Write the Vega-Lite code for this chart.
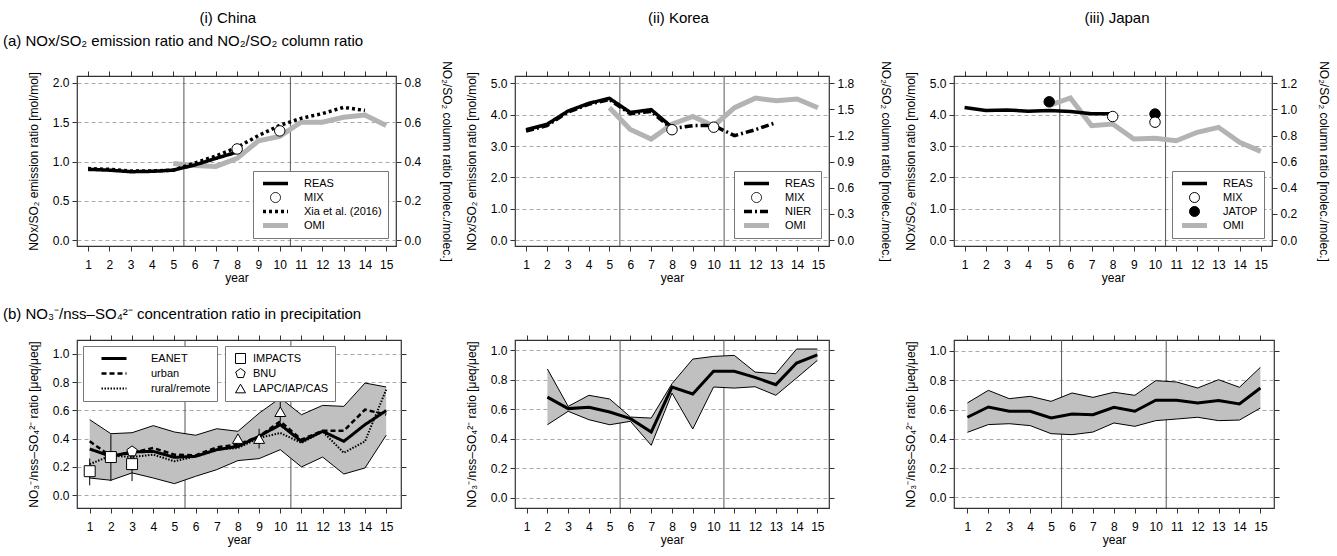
{
"$schema": "https://vega.github.io/schema/vega-lite/v6.json",
"padding": {"left": 2, "top": 11, "right": 2, "bottom": 4},
"spacing": 10,
"resolve": {"scale": {"color": "independent", "shape": "independent", "strokeDash": "independent", "strokeWidth": "independent"}, "legend": {"color": "independent", "shape": "independent", "strokeDash": "independent", "strokeWidth": "independent"}},
"config": {
  "font": "Liberation Sans",
  "title": {"fontSize": 15, "fontWeight": "normal", "color": "#000"},
  "view": {"stroke": "#333", "strokeWidth": 1.2},
  "axis": {"labelFontSize": 12, "titleFontSize": 12, "titleFontWeight": "normal", "labelColor": "#000", "titleColor": "#000", "tickColor": "#333", "tickSize": 5, "domain": false, "grid": false, "gridColor": "#aaa", "gridDash": [4, 3], "labelPadding": 3, "titlePadding": 6, "labelFlush": false},
  "axisX": {"labelPadding": 8},
  "axisLeft": {"titlePadding": 12},
  "legend": {"labelFontSize": 11, "labelColor": "#000", "strokeColor": "#777", "fillColor": "#fff", "padding": 6, "rowPadding": 1, "clipHeight": 13, "labelOffset": 23, "symbolOffset": 11, "symbolStrokeWidth": 1}
},
"hconcat": [
 {
  "title": {"text": "(i) China", "anchor": "middle", "offset": 7},
  "spacing": 21,
  "resolve": {"scale": {"color": "independent", "shape": "independent", "strokeDash": "independent", "strokeWidth": "independent"}, "legend": {"color": "independent", "shape": "independent", "strokeDash": "independent", "strokeWidth": "independent"}},
  "vconcat": [
   {
    "width": 319, "height": 170,
    "title": {"text": "(a) NOx/SO₂ emission ratio and NO₂/SO₂ column ratio", "anchor": "start", "frame": "group", "dx": -74, "offset": 12},
    "layer": [
     {"data": {"values": [{"x": 5.5}, {"x": 10.5}]}, "mark": {"type": "rule", "color": "#555", "strokeWidth": 1},
      "encoding": {"x": {"field": "x", "type": "quantitative", "scale": {"domain": [0.48, 15.46], "nice": false, "zero": false}, "axis": {"orient": "bottom", "values": [1,2,3,4,5,6,7,8,9,10,11,12,13,14,15], "title": "year", "titlePadding": 2}}}},
     {"data": {"name": "chinaTop"}, "transform": [{"filter": "datum.series === 'OMI'"}],
      "mark": {"type": "line", "color": "#b3b3b3", "strokeWidth": 5},
      "encoding": {
       "x": {"field": "year", "type": "quantitative", "scale": {"domain": [0.48, 15.46], "nice": false, "zero": false}, "axis": {"orient": "top", "values": [1,2,3,4,5,6,7,8,9,10,11,12,13,14,15], "labels": false, "title": null}},
       "y": {"field": "value", "type": "quantitative", "scale": {"domain": [-0.0304, 0.8356], "nice": false, "zero": false}, "axis": {"orient": "right", "values": [0, 0.2, 0.4, 0.6, 0.8], "format": ".1f", "title": "NO₂/SO₂ column ratio [molec./molec.]", "titleAngle": 90, "titlePadding": 19}}
      }},
     {"data": {"name": "chinaTop"}, "transform": [{"filter": "datum.series === 'REAS' || datum.series === 'Xia et al. (2016)'"}],
      "mark": {"type": "line", "strokeWidth": 3.5},
      "encoding": {
       "x": {"field": "year", "type": "quantitative", "scale": {"domain": [0.48, 15.46], "nice": false, "zero": false}, "axis": null},
       "y": {"field": "value", "type": "quantitative", "scale": {"domain": [-0.076, 2.089], "nice": false, "zero": false}, "axis": {"orient": "left", "values": [0, 0.5, 1, 1.5, 2], "format": ".1f", "title": "NOx/SO₂ emission ratio [mol/mol]", "grid": true}},
       "color": {"field": "series", "type": "nominal", "scale": {"domain": ["REAS", "MIX", "Xia et al. (2016)", "OMI"], "range": ["#000", "#000", "#000", "#b3b3b3"]},
        "legend": {"title": null, "orient": "bottom-right", "offset": 8, "symbolSize": 100, "symbolType": "stroke", "labelExpr": "datum.label + '\u00a0\u00a0\u00a0\u00a0'",
         "encode": {"symbols": {"update": {
          "shape": {"signal": "datum.value === 'MIX' ? 'circle' : 'stroke'"},
          "size": {"signal": "datum.value === 'MIX' ? 100 : 625"},
          "strokeWidth": {"signal": "datum.value === 'MIX' ? 1 : (datum.value === 'OMI' ? 5 : 3.5)"},
          "strokeDash": {"signal": "datum.value === 'Xia et al. (2016)' ? [3,3] : [1,0]"},
          "stroke": {"signal": "datum.value === 'OMI' ? '#b3b3b3' : '#000'"},
          "fill": {"signal": "datum.value === 'MIX' ? '#fff' : 'transparent'"},
          "opacity": {"value": 1}}}}}},
       "strokeDash": {"field": "series", "type": "nominal", "scale": {"domain": ["REAS", "Xia et al. (2016)"], "range": [[1, 0], [3, 3]]}, "legend": null}
      }},
     {"data": {"name": "chinaTop"}, "transform": [{"filter": "datum.series === 'MIX'"}],
      "mark": {"type": "point", "shape": "circle", "filled": true, "fill": "#fff", "stroke": "#000", "strokeWidth": 1, "size": 110, "opacity": 1},
      "encoding": {
       "x": {"field": "year", "type": "quantitative", "scale": {"domain": [0.48, 15.46], "nice": false, "zero": false}, "axis": null},
       "y": {"field": "value", "type": "quantitative", "scale": {"domain": [-0.076, 2.089], "nice": false, "zero": false}, "axis": null}
      }}
    ],
    "resolve": {"scale": {"y": "independent"}, "axis": {"x": "independent"}}
   },
   {
    "width": 324, "height": 168,
    "title": {"text": "(b) NO₃⁻/nss–SO₄²⁻ concentration ratio in precipitation", "anchor": "start", "frame": "group", "dx": -74, "offset": 13},
    "layer": [
     {"data": {"values": [{"x": 5.5}, {"x": 10.5}]}, "mark": {"type": "rule", "color": "#555", "strokeWidth": 1},
      "encoding": {"x": {"field": "x", "type": "quantitative", "scale": {"domain": [0.4, 15.7], "nice": false, "zero": false}, "axis": {"orient": "bottom", "values": [1,2,3,4,5,6,7,8,9,10,11,12,13,14,15], "title": "year", "titlePadding": 2}}}},
     {"data": {"name": "chinaBand"}, "mark": {"type": "area", "color": "#c0c0c0", "opacity": 1},
      "encoding": {
       "x": {"field": "year", "type": "quantitative", "scale": {"domain": [0.4, 15.7], "nice": false, "zero": false}, "axis": {"orient": "top", "values": [1,2,3,4,5,6,7,8,9,10,11,12,13,14,15], "labels": false, "title": null}},
       "y": {"field": "lo", "type": "quantitative", "scale": {"domain": [-0.09, 1.097], "nice": false, "zero": false}, "axis": {"orient": "left", "values": [0, 0.2, 0.4, 0.6, 0.8, 1], "format": ".1f", "title": "NO₃⁻/nss–SO₄²⁻ ratio [μeq/μeq]", "grid": true}},
       "y2": {"field": "hi"}
      }},
     {"data": {"name": "chinaBand"}, "mark": {"type": "line", "color": "#000", "strokeWidth": 1},
      "encoding": {
       "x": {"field": "year", "type": "quantitative", "axis": null},
       "y": {"field": "hi", "type": "quantitative", "axis": {"orient": "right", "values": [0, 0.2, 0.4, 0.6, 0.8, 1], "labels": false, "title": null}}
      }},
     {"data": {"name": "chinaBand"}, "mark": {"type": "line", "color": "#000", "strokeWidth": 1},
      "encoding": {
       "x": {"field": "year", "type": "quantitative", "axis": null},
       "y": {"field": "lo", "type": "quantitative", "axis": null}
      }},
     {"data": {"name": "chinaLines"}, "mark": {"type": "line"},
      "encoding": {
       "x": {"field": "year", "type": "quantitative", "axis": null},
       "y": {"field": "value", "type": "quantitative", "axis": null},
       "color": {"field": "series", "type": "nominal", "scale": {"domain": ["EANET", "urban", "rural/remote"], "range": ["#000", "#000", "#000"]},
        "legend": {"title": null, "orient": "top-left", "offset": 6, "symbolSize": 100, "symbolType": "stroke", "rowPadding": 2, "labelExpr": "datum.label + '\u00a0\u00a0\u00a0\u00a0\u00a0\u00a0\u00a0'",
         "encode": {"symbols": {"update": {
          "size": {"value": 625},
          "strokeWidth": {"signal": "datum.value === 'EANET' ? 3.5 : 2"},
          "strokeDash": {"signal": "datum.value === 'urban' ? [5,3] : (datum.value === 'rural/remote' ? [1.5,1.5] : [1,0])"},
          "stroke": {"value": "#000"},
          "fill": {"value": "transparent"},
          "opacity": {"value": 1}}}}}},
       "strokeDash": {"field": "series", "type": "nominal", "scale": {"domain": ["EANET", "urban", "rural/remote"], "range": [[1, 0], [5, 3], [1.5, 1.5]]}, "legend": null},
       "strokeWidth": {"field": "series", "type": "nominal", "scale": {"domain": ["EANET", "urban", "rural/remote"], "range": [3, 2, 2]}, "legend": null}
      }},
     {"data": {"name": "chinaObs"}, "transform": [{"filter": "isValid(datum.lo)"}], "mark": {"type": "rule", "color": "#000", "strokeWidth": 1},
      "encoding": {
       "x": {"field": "year", "type": "quantitative", "axis": null},
       "y": {"field": "lo", "type": "quantitative", "axis": null},
       "y2": {"field": "hi"}
      }},
     {"data": {"name": "chinaObs"}, "mark": {"type": "point", "filled": true, "fill": "#fff", "stroke": "#000", "strokeWidth": 1, "size": 120, "opacity": 1},
      "encoding": {
       "x": {"field": "year", "type": "quantitative", "axis": null},
       "y": {"field": "value", "type": "quantitative", "axis": null},
       "shape": {"field": "source", "type": "nominal", "scale": {"domain": ["IMPACTS", "BNU", "LAPC/IAP/CAS"], "range": ["square", "M0,-1L0.951,-0.309L0.588,0.809L-0.588,0.809L-0.951,-0.309Z", "triangle-up"]},
        "legend": {"title": null, "orient": "none", "legendX": 148, "legendY": 6, "symbolSize": 100, "symbolOffset": 4, "labelOffset": 7, "rowPadding": 2,
         "encode": {"symbols": {"update": {"fill": {"value": "#fff"}, "stroke": {"value": "#000"}, "strokeWidth": {"value": 1}, "opacity": {"value": 1}}}}}}
      }}
    ],
    "resolve": {"axis": {"x": "independent", "y": "independent"}}
   }
  ]
 },
 {
  "title": {"text": "(ii) Korea", "anchor": "middle", "offset": 7},
  "spacing": 21,
  "resolve": {"scale": {"color": "independent", "shape": "independent", "strokeDash": "independent", "strokeWidth": "independent"}, "legend": {"color": "independent", "shape": "independent", "strokeDash": "independent", "strokeWidth": "independent"}},
  "vconcat": [
   {
    "width": 314, "height": 170,
    "title": {"text": " ", "anchor": "start", "offset": 12},
    "layer": [
     {"data": {"values": [{"x": 5.5}, {"x": 10.5}]}, "mark": {"type": "rule", "color": "#555", "strokeWidth": 1},
      "encoding": {"x": {"field": "x", "type": "quantitative", "scale": {"domain": [0.47, 15.53], "nice": false, "zero": false}, "axis": {"orient": "bottom", "values": [1,2,3,4,5,6,7,8,9,10,11,12,13,14,15], "title": "year", "titlePadding": 2}}}},
     {"data": {"name": "koreaTop"}, "transform": [{"filter": "datum.series === 'OMI'"}],
      "mark": {"type": "line", "color": "#b3b3b3", "strokeWidth": 5},
      "encoding": {
       "x": {"field": "year", "type": "quantitative", "scale": {"domain": [0.47, 15.53], "nice": false, "zero": false}, "axis": {"orient": "top", "values": [1,2,3,4,5,6,7,8,9,10,11,12,13,14,15], "labels": false, "title": null}},
       "y": {"field": "value", "type": "quantitative", "scale": {"domain": [-0.0684, 1.884], "nice": false, "zero": false}, "axis": {"orient": "right", "values": [0, 0.3, 0.6, 0.9, 1.2, 1.5, 1.8], "format": ".1f", "title": "NO₂/SO₂ column ratio [molec./molec.]", "titleAngle": 90, "titlePadding": 25}}
      }},
     {"data": {"name": "koreaTop"}, "transform": [{"filter": "datum.series === 'REAS' || datum.series === 'NIER'"}],
      "mark": {"type": "line", "strokeWidth": 3.5},
      "encoding": {
       "x": {"field": "year", "type": "quantitative", "scale": {"domain": [0.47, 15.53], "nice": false, "zero": false}, "axis": null},
       "y": {"field": "value", "type": "quantitative", "scale": {"domain": [-0.19, 5.233], "nice": false, "zero": false}, "axis": {"orient": "left", "values": [0, 1, 2, 3, 4, 5], "format": ".1f", "title": "NOx/SO₂ emission ratio [mol/mol]", "grid": true}},
       "color": {"field": "series", "type": "nominal", "scale": {"domain": ["REAS", "MIX", "NIER", "OMI"], "range": ["#000", "#000", "#000", "#b3b3b3"]},
        "legend": {"title": null, "orient": "bottom-right", "offset": 8, "symbolSize": 100, "symbolType": "stroke", "labelExpr": "datum.label + '\u00a0\u00a0\u00a0\u00a0\u00a0\u00a0\u00a0\u00a0\u00a0'",
         "encode": {"symbols": {"update": {
          "shape": {"signal": "datum.value === 'MIX' ? 'circle' : 'stroke'"},
          "size": {"signal": "datum.value === 'MIX' ? 100 : 625"},
          "strokeWidth": {"signal": "datum.value === 'MIX' ? 1 : (datum.value === 'OMI' ? 5 : 3.5)"},
          "strokeDash": {"signal": "datum.value === 'NIER' ? [8,3,2,3] : [1,0]"},
          "stroke": {"signal": "datum.value === 'OMI' ? '#b3b3b3' : '#000'"},
          "fill": {"signal": "datum.value === 'MIX' ? '#fff' : 'transparent'"},
          "opacity": {"value": 1}}}}}},
       "strokeDash": {"field": "series", "type": "nominal", "scale": {"domain": ["REAS", "NIER"], "range": [[1, 0], [8, 3, 2, 3]]}, "legend": null}
      }},
     {"data": {"name": "koreaTop"}, "transform": [{"filter": "datum.series === 'MIX'"}],
      "mark": {"type": "point", "shape": "circle", "filled": true, "fill": "#fff", "stroke": "#000", "strokeWidth": 1, "size": 110, "opacity": 1},
      "encoding": {
       "x": {"field": "year", "type": "quantitative", "scale": {"domain": [0.47, 15.53], "nice": false, "zero": false}, "axis": null},
       "y": {"field": "value", "type": "quantitative", "scale": {"domain": [-0.19, 5.233], "nice": false, "zero": false}, "axis": null}
      }}
    ],
    "resolve": {"scale": {"y": "independent"}, "axis": {"x": "independent"}}
   },
   {
    "width": 314, "height": 168,
    "title": {"text": " ", "anchor": "start", "offset": 13},
    "layer": [
     {"data": {"values": [{"x": 5.5}, {"x": 10.5}]}, "mark": {"type": "rule", "color": "#555", "strokeWidth": 1},
      "encoding": {"x": {"field": "x", "type": "quantitative", "scale": {"domain": [0.44, 15.56], "nice": false, "zero": false}, "axis": {"orient": "bottom", "values": [1,2,3,4,5,6,7,8,9,10,11,12,13,14,15], "title": "year", "titlePadding": 2}}}},
     {"data": {"name": "koreaBand"}, "mark": {"type": "area", "color": "#c0c0c0", "opacity": 1},
      "encoding": {
       "x": {"field": "year", "type": "quantitative", "scale": {"domain": [0.44, 15.56], "nice": false, "zero": false}, "axis": {"orient": "top", "values": [1,2,3,4,5,6,7,8,9,10,11,12,13,14,15], "labels": false, "title": null}},
       "y": {"field": "lo", "type": "quantitative", "scale": {"domain": [-0.068, 1.068], "nice": false, "zero": false}, "axis": {"orient": "left", "values": [0, 0.2, 0.4, 0.6, 0.8, 1], "format": ".1f", "title": "NO₃⁻/nss–SO₄²⁻ ratio [μeq/μeq]", "grid": true}},
       "y2": {"field": "hi"}
      }},
     {"data": {"name": "koreaBand"}, "mark": {"type": "line", "color": "#000", "strokeWidth": 1},
      "encoding": {
       "x": {"field": "year", "type": "quantitative", "axis": null},
       "y": {"field": "hi", "type": "quantitative", "axis": {"orient": "right", "values": [0, 0.2, 0.4, 0.6, 0.8, 1], "labels": false, "title": null}}
      }},
     {"data": {"name": "koreaBand"}, "mark": {"type": "line", "color": "#000", "strokeWidth": 1},
      "encoding": {"x": {"field": "year", "type": "quantitative", "axis": null}, "y": {"field": "lo", "type": "quantitative", "axis": null}}},
     {"data": {"name": "koreaBand"}, "mark": {"type": "line", "color": "#000", "strokeWidth": 3},
      "encoding": {"x": {"field": "year", "type": "quantitative", "axis": null}, "y": {"field": "mean", "type": "quantitative", "axis": null}}}
    ],
    "resolve": {"axis": {"x": "independent", "y": "independent"}}
   }
  ]
 },
 {
  "title": {"text": "(iii) Japan", "anchor": "middle", "offset": 7},
  "spacing": 21,
  "resolve": {"scale": {"color": "independent", "shape": "independent", "strokeDash": "independent", "strokeWidth": "independent"}, "legend": {"color": "independent", "shape": "independent", "strokeDash": "independent", "strokeWidth": "independent"}},
  "vconcat": [
   {
    "width": 318, "height": 170,
    "title": {"text": " ", "anchor": "start", "offset": 12},
    "layer": [
     {"data": {"values": [{"x": 5.5}, {"x": 10.5}]}, "mark": {"type": "rule", "color": "#555", "strokeWidth": 1},
      "encoding": {"x": {"field": "x", "type": "quantitative", "scale": {"domain": [0.5, 15.53], "nice": false, "zero": false}, "axis": {"orient": "bottom", "values": [1,2,3,4,5,6,7,8,9,10,11,12,13,14,15], "title": "year", "titlePadding": 2}}}},
     {"data": {"name": "japanTop"}, "transform": [{"filter": "datum.series === 'OMI'"}],
      "mark": {"type": "line", "color": "#b3b3b3", "strokeWidth": 5},
      "encoding": {
       "x": {"field": "year", "type": "quantitative", "scale": {"domain": [0.5, 15.53], "nice": false, "zero": false}, "axis": {"orient": "top", "values": [1,2,3,4,5,6,7,8,9,10,11,12,13,14,15], "labels": false, "title": null}},
       "y": {"field": "value", "type": "quantitative", "scale": {"domain": [-0.0456, 1.256], "nice": false, "zero": false}, "axis": {"orient": "right", "values": [0, 0.2, 0.4, 0.6, 0.8, 1, 1.2], "format": ".1f", "title": "NO₂/SO₂ column ratio [molec./molec.]", "titleAngle": 90, "titlePadding": 20}}
      }},
     {"data": {"name": "japanTop"}, "transform": [{"filter": "datum.series === 'REAS'"}],
      "mark": {"type": "line", "strokeWidth": 3.5},
      "encoding": {
       "x": {"field": "year", "type": "quantitative", "scale": {"domain": [0.5, 15.53], "nice": false, "zero": false}, "axis": null},
       "y": {"field": "value", "type": "quantitative", "scale": {"domain": [-0.19, 5.233], "nice": false, "zero": false}, "axis": {"orient": "left", "values": [0, 1, 2, 3, 4, 5], "format": ".1f", "title": "NOx/SO₂ emission ratio [mol/mol]", "grid": true}},
       "color": {"field": "series", "type": "nominal", "scale": {"domain": ["REAS", "MIX", "JATOP", "OMI"], "range": ["#000", "#000", "#000", "#b3b3b3"]},
        "legend": {"title": null, "orient": "bottom-right", "offset": 8, "symbolSize": 100, "symbolType": "stroke", "labelExpr": "datum.label + '\u00a0\u00a0\u00a0\u00a0'",
         "encode": {"symbols": {"update": {
          "shape": {"signal": "(datum.value === 'MIX' || datum.value === 'JATOP') ? 'circle' : 'stroke'"},
          "size": {"signal": "(datum.value === 'MIX' || datum.value === 'JATOP') ? 100 : 625"},
          "strokeWidth": {"signal": "(datum.value === 'MIX' || datum.value === 'JATOP') ? 1 : (datum.value === 'OMI' ? 5 : 3.5)"},
          "stroke": {"signal": "datum.value === 'OMI' ? '#b3b3b3' : '#000'"},
          "fill": {"signal": "datum.value === 'MIX' ? '#fff' : (datum.value === 'JATOP' ? '#000' : 'transparent')"},
          "opacity": {"value": 1}}}}}}
      }},
     {"data": {"name": "japanTop"}, "transform": [{"filter": "datum.series === 'JATOP'"}],
      "mark": {"type": "point", "shape": "circle", "filled": true, "fill": "#000", "stroke": "#000", "strokeWidth": 1, "size": 110, "opacity": 1},
      "encoding": {
       "x": {"field": "year", "type": "quantitative", "scale": {"domain": [0.5, 15.53], "nice": false, "zero": false}, "axis": null},
       "y": {"field": "value", "type": "quantitative", "scale": {"domain": [-0.19, 5.233], "nice": false, "zero": false}, "axis": null}
      }},
     {"data": {"name": "japanTop"}, "transform": [{"filter": "datum.series === 'MIX'"}],
      "mark": {"type": "point", "shape": "circle", "filled": true, "fill": "#fff", "stroke": "#000", "strokeWidth": 1, "size": 110, "opacity": 1},
      "encoding": {
       "x": {"field": "year", "type": "quantitative", "scale": {"domain": [0.5, 15.53], "nice": false, "zero": false}, "axis": null},
       "y": {"field": "value", "type": "quantitative", "scale": {"domain": [-0.19, 5.233], "nice": false, "zero": false}, "axis": null}
      }}
    ],
    "resolve": {"scale": {"y": "independent"}, "axis": {"x": "independent"}}
   },
   {
    "width": 320, "height": 168,
    "title": {"text": " ", "anchor": "start", "offset": 13},
    "layer": [
     {"data": {"values": [{"x": 5.5}, {"x": 10.5}]}, "mark": {"type": "rule", "color": "#555", "strokeWidth": 1},
      "encoding": {"x": {"field": "x", "type": "quantitative", "scale": {"domain": [0.36, 15.65], "nice": false, "zero": false}, "axis": {"orient": "bottom", "values": [1,2,3,4,5,6,7,8,9,10,11,12,13,14,15], "title": "year", "titlePadding": 2}}}},
     {"data": {"name": "japanBand"}, "mark": {"type": "area", "color": "#c0c0c0", "opacity": 1},
      "encoding": {
       "x": {"field": "year", "type": "quantitative", "scale": {"domain": [0.36, 15.65], "nice": false, "zero": false}, "axis": {"orient": "top", "values": [1,2,3,4,5,6,7,8,9,10,11,12,13,14,15], "labels": false, "title": null}},
       "y": {"field": "lo", "type": "quantitative", "scale": {"domain": [-0.073, 1.075], "nice": false, "zero": false}, "axis": {"orient": "left", "values": [0, 0.2, 0.4, 0.6, 0.8, 1], "format": ".1f", "title": "NO₃⁻/nss–SO₄²⁻ ratio [μeq/μeq]", "grid": true}},
       "y2": {"field": "hi"}
      }},
     {"data": {"name": "japanBand"}, "mark": {"type": "line", "color": "#000", "strokeWidth": 1},
      "encoding": {
       "x": {"field": "year", "type": "quantitative", "axis": null},
       "y": {"field": "hi", "type": "quantitative", "axis": {"orient": "right", "values": [0, 0.2, 0.4, 0.6, 0.8, 1], "labels": false, "title": null}}
      }},
     {"data": {"name": "japanBand"}, "mark": {"type": "line", "color": "#000", "strokeWidth": 1},
      "encoding": {"x": {"field": "year", "type": "quantitative", "axis": null}, "y": {"field": "lo", "type": "quantitative", "axis": null}}},
     {"data": {"name": "japanBand"}, "mark": {"type": "line", "color": "#000", "strokeWidth": 3},
      "encoding": {"x": {"field": "year", "type": "quantitative", "axis": null}, "y": {"field": "mean", "type": "quantitative", "axis": null}}}
    ],
    "resolve": {"axis": {"x": "independent", "y": "independent"}}
   }
  ]
 }
],
"datasets": {
 "chinaTop": [
  {"year": 1, "series": "REAS", "value": 0.90}, {"year": 2, "series": "REAS", "value": 0.89}, {"year": 3, "series": "REAS", "value": 0.87}, {"year": 4, "series": "REAS", "value": 0.875}, {"year": 5, "series": "REAS", "value": 0.89}, {"year": 6, "series": "REAS", "value": 0.955}, {"year": 7, "series": "REAS", "value": 1.04}, {"year": 8, "series": "REAS", "value": 1.12},
  {"year": 1, "series": "Xia et al. (2016)", "value": 0.91}, {"year": 2, "series": "Xia et al. (2016)", "value": 0.90}, {"year": 3, "series": "Xia et al. (2016)", "value": 0.88}, {"year": 4, "series": "Xia et al. (2016)", "value": 0.88}, {"year": 5, "series": "Xia et al. (2016)", "value": 0.89}, {"year": 6, "series": "Xia et al. (2016)", "value": 0.98}, {"year": 7, "series": "Xia et al. (2016)", "value": 1.07}, {"year": 8, "series": "Xia et al. (2016)", "value": 1.18}, {"year": 9, "series": "Xia et al. (2016)", "value": 1.33}, {"year": 10, "series": "Xia et al. (2016)", "value": 1.46}, {"year": 11, "series": "Xia et al. (2016)", "value": 1.55}, {"year": 12, "series": "Xia et al. (2016)", "value": 1.61}, {"year": 13, "series": "Xia et al. (2016)", "value": 1.69}, {"year": 14, "series": "Xia et al. (2016)", "value": 1.65},
  {"year": 8, "series": "MIX", "value": 1.16}, {"year": 10, "series": "MIX", "value": 1.39},
  {"year": 5, "series": "OMI", "value": 0.39}, {"year": 6, "series": "OMI", "value": 0.38}, {"year": 7, "series": "OMI", "value": 0.375}, {"year": 8, "series": "OMI", "value": 0.416}, {"year": 9, "series": "OMI", "value": 0.506}, {"year": 10, "series": "OMI", "value": 0.528}, {"year": 11, "series": "OMI", "value": 0.60}, {"year": 12, "series": "OMI", "value": 0.60}, {"year": 13, "series": "OMI", "value": 0.625}, {"year": 14, "series": "OMI", "value": 0.637}, {"year": 15, "series": "OMI", "value": 0.583}
 ],
 "koreaTop": [
  {"year": 1, "series": "REAS", "value": 3.52}, {"year": 2, "series": "REAS", "value": 3.69}, {"year": 3, "series": "REAS", "value": 4.11}, {"year": 4, "series": "REAS", "value": 4.36}, {"year": 5, "series": "REAS", "value": 4.52}, {"year": 6, "series": "REAS", "value": 4.07}, {"year": 7, "series": "REAS", "value": 4.16}, {"year": 8, "series": "REAS", "value": 3.60},
  {"year": 1, "series": "NIER", "value": 3.48}, {"year": 2, "series": "NIER", "value": 3.65}, {"year": 3, "series": "NIER", "value": 4.08}, {"year": 4, "series": "NIER", "value": 4.33}, {"year": 5, "series": "NIER", "value": 4.48}, {"year": 6, "series": "NIER", "value": 4.03}, {"year": 7, "series": "NIER", "value": 4.10}, {"year": 8, "series": "NIER", "value": 3.55}, {"year": 9, "series": "NIER", "value": 3.65}, {"year": 10, "series": "NIER", "value": 3.65}, {"year": 11, "series": "NIER", "value": 3.33}, {"year": 12, "series": "NIER", "value": 3.52}, {"year": 13, "series": "NIER", "value": 3.75},
  {"year": 8, "series": "MIX", "value": 3.52}, {"year": 10, "series": "MIX", "value": 3.60},
  {"year": 5, "series": "OMI", "value": 1.52}, {"year": 6, "series": "OMI", "value": 1.27}, {"year": 7, "series": "OMI", "value": 1.16}, {"year": 8, "series": "OMI", "value": 1.33}, {"year": 9, "series": "OMI", "value": 1.42}, {"year": 10, "series": "OMI", "value": 1.31}, {"year": 11, "series": "OMI", "value": 1.52}, {"year": 12, "series": "OMI", "value": 1.63}, {"year": 13, "series": "OMI", "value": 1.60}, {"year": 14, "series": "OMI", "value": 1.62}, {"year": 15, "series": "OMI", "value": 1.52}
 ],
 "japanTop": [
  {"year": 1, "series": "REAS", "value": 4.23}, {"year": 2, "series": "REAS", "value": 4.13}, {"year": 3, "series": "REAS", "value": 4.15}, {"year": 4, "series": "REAS", "value": 4.11}, {"year": 5, "series": "REAS", "value": 4.13}, {"year": 6, "series": "REAS", "value": 4.10}, {"year": 7, "series": "REAS", "value": 4.03}, {"year": 8, "series": "REAS", "value": 4.03},
  {"year": 8, "series": "MIX", "value": 3.94}, {"year": 10, "series": "MIX", "value": 3.76},
  {"year": 5, "series": "JATOP", "value": 4.41}, {"year": 10, "series": "JATOP", "value": 4.02},
  {"year": 5, "series": "OMI", "value": 1.03}, {"year": 6, "series": "OMI", "value": 1.088}, {"year": 7, "series": "OMI", "value": 0.876}, {"year": 8, "series": "OMI", "value": 0.888}, {"year": 9, "series": "OMI", "value": 0.773}, {"year": 10, "series": "OMI", "value": 0.78}, {"year": 11, "series": "OMI", "value": 0.76}, {"year": 12, "series": "OMI", "value": 0.825}, {"year": 13, "series": "OMI", "value": 0.863}, {"year": 14, "series": "OMI", "value": 0.748}, {"year": 15, "series": "OMI", "value": 0.679}
 ],
 "chinaBand": [
  {"year": 1, "lo": 0.122, "hi": 0.534}, {"year": 2, "lo": 0.106, "hi": 0.435}, {"year": 3, "lo": 0.158, "hi": 0.442}, {"year": 4, "lo": 0.122, "hi": 0.492}, {"year": 5, "lo": 0.082, "hi": 0.447}, {"year": 6, "lo": 0.134, "hi": 0.424}, {"year": 7, "lo": 0.181, "hi": 0.47}, {"year": 8, "lo": 0.245, "hi": 0.452}, {"year": 9, "lo": 0.259, "hi": 0.58}, {"year": 10, "lo": 0.322, "hi": 0.687}, {"year": 11, "lo": 0.2, "hi": 0.569}, {"year": 12, "lo": 0.27, "hi": 0.635}, {"year": 13, "lo": 0.15, "hi": 0.628}, {"year": 14, "lo": 0.193, "hi": 0.793}, {"year": 15, "lo": 0.424, "hi": 0.765}
 ],
 "chinaLines": [
  {"year": 1, "series": "EANET", "value": 0.327}, {"year": 2, "series": "EANET", "value": 0.275}, {"year": 3, "series": "EANET", "value": 0.306}, {"year": 4, "series": "EANET", "value": 0.31}, {"year": 5, "series": "EANET", "value": 0.268}, {"year": 6, "series": "EANET", "value": 0.275}, {"year": 7, "series": "EANET", "value": 0.322}, {"year": 8, "series": "EANET", "value": 0.346}, {"year": 9, "series": "EANET", "value": 0.416}, {"year": 10, "series": "EANET", "value": 0.499}, {"year": 11, "series": "EANET", "value": 0.381}, {"year": 12, "series": "EANET", "value": 0.452}, {"year": 13, "series": "EANET", "value": 0.381}, {"year": 14, "series": "EANET", "value": 0.499}, {"year": 15, "series": "EANET", "value": 0.598},
  {"year": 1, "series": "urban", "value": 0.381}, {"year": 2, "series": "urban", "value": 0.275}, {"year": 3, "series": "urban", "value": 0.30}, {"year": 4, "series": "urban", "value": 0.334}, {"year": 5, "series": "urban", "value": 0.287}, {"year": 6, "series": "urban", "value": 0.282}, {"year": 7, "series": "urban", "value": 0.339}, {"year": 8, "series": "urban", "value": 0.358}, {"year": 9, "series": "urban", "value": 0.416}, {"year": 10, "series": "urban", "value": 0.522}, {"year": 11, "series": "urban", "value": 0.393}, {"year": 12, "series": "urban", "value": 0.456}, {"year": 13, "series": "urban", "value": 0.456}, {"year": 14, "series": "urban", "value": 0.605}, {"year": 15, "series": "urban", "value": 0.57},
  {"year": 1, "series": "rural/remote", "value": 0.22}, {"year": 2, "series": "rural/remote", "value": 0.28}, {"year": 3, "series": "rural/remote", "value": 0.27}, {"year": 4, "series": "rural/remote", "value": 0.287}, {"year": 5, "series": "rural/remote", "value": 0.24}, {"year": 6, "series": "rural/remote", "value": 0.275}, {"year": 7, "series": "rural/remote", "value": 0.322}, {"year": 8, "series": "rural/remote", "value": 0.334}, {"year": 9, "series": "rural/remote", "value": 0.405}, {"year": 10, "series": "rural/remote", "value": 0.44}, {"year": 11, "series": "rural/remote", "value": 0.37}, {"year": 12, "series": "rural/remote", "value": 0.45}, {"year": 13, "series": "rural/remote", "value": 0.30}, {"year": 14, "series": "rural/remote", "value": 0.381}, {"year": 15, "series": "rural/remote", "value": 0.746}
 ],
 "chinaObs": [
  {"year": 1, "source": "IMPACTS", "value": 0.17, "lo": 0.07, "hi": 0.26},
  {"year": 2, "source": "IMPACTS", "value": 0.27, "lo": 0.10, "hi": 0.43},
  {"year": 3, "source": "IMPACTS", "value": 0.22, "lo": 0.10, "hi": 0.30},
  {"year": 3, "source": "BNU", "value": 0.31},
  {"year": 8, "source": "LAPC/IAP/CAS", "value": 0.40},
  {"year": 9, "source": "LAPC/IAP/CAS", "value": 0.40, "lo": 0.33, "hi": 0.47},
  {"year": 10, "source": "LAPC/IAP/CAS", "value": 0.59, "lo": 0.52, "hi": 0.66}
 ],
 "koreaBand": [
  {"year": 2, "lo": 0.495, "mean": 0.682, "hi": 0.872}, {"year": 3, "lo": 0.586, "mean": 0.604, "hi": 0.619}, {"year": 4, "lo": 0.529, "mean": 0.613, "hi": 0.694}, {"year": 5, "lo": 0.495, "mean": 0.581, "hi": 0.669}, {"year": 6, "lo": 0.518, "mean": 0.536, "hi": 0.547}, {"year": 7, "lo": 0.356, "mean": 0.446, "hi": 0.54}, {"year": 8, "lo": 0.709, "mean": 0.75, "hi": 0.773}, {"year": 9, "lo": 0.466, "mean": 0.703, "hi": 0.939}, {"year": 10, "lo": 0.75, "mean": 0.856, "hi": 0.957}, {"year": 11, "lo": 0.743, "mean": 0.856, "hi": 0.964}, {"year": 12, "lo": 0.752, "mean": 0.815, "hi": 0.851}, {"year": 13, "lo": 0.694, "mean": 0.766, "hi": 0.84}, {"year": 14, "lo": 0.811, "mean": 0.912, "hi": 1.007}, {"year": 15, "lo": 0.93, "mean": 0.968, "hi": 1.007}
 ],
 "japanBand": [
  {"year": 1, "lo": 0.444, "mean": 0.547, "hi": 0.645}, {"year": 2, "lo": 0.497, "mean": 0.617, "hi": 0.731}, {"year": 3, "lo": 0.503, "mean": 0.588, "hi": 0.674}, {"year": 4, "lo": 0.49, "mean": 0.588, "hi": 0.69}, {"year": 5, "lo": 0.435, "mean": 0.542, "hi": 0.656}, {"year": 6, "lo": 0.428, "mean": 0.569, "hi": 0.713}, {"year": 7, "lo": 0.446, "mean": 0.565, "hi": 0.683}, {"year": 8, "lo": 0.508, "mean": 0.615, "hi": 0.718}, {"year": 9, "lo": 0.485, "mean": 0.588, "hi": 0.697}, {"year": 10, "lo": 0.524, "mean": 0.663, "hi": 0.797}, {"year": 11, "lo": 0.535, "mean": 0.663, "hi": 0.788}, {"year": 12, "lo": 0.547, "mean": 0.645, "hi": 0.747}, {"year": 13, "lo": 0.524, "mean": 0.661, "hi": 0.804}, {"year": 14, "lo": 0.528, "mean": 0.638, "hi": 0.752}, {"year": 15, "lo": 0.61, "mean": 0.747, "hi": 0.888}
 ]
}
}
